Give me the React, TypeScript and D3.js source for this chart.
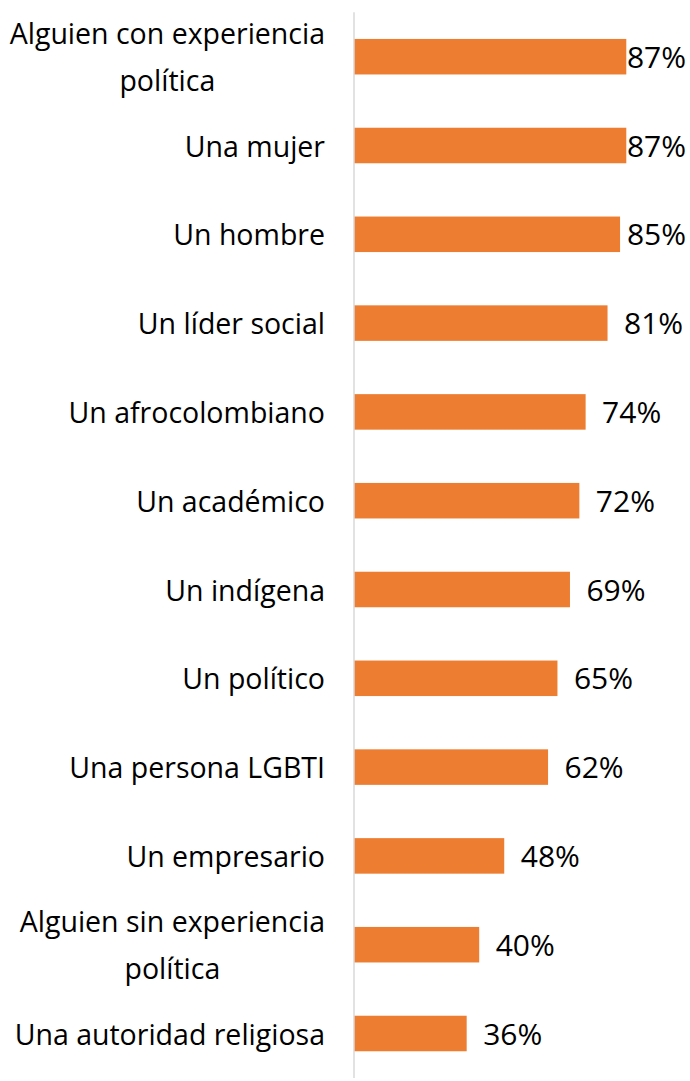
import * as d3 from 'd3'
import { useEffect, useRef } from 'react'

const labels: string[][] = [
  ['Alguien con experiencia', 'política'],
  ['Una mujer'],
  ['Un hombre'],
  ['Un líder social'],
  ['Un afrocolombiano'],
  ['Un académico'],
  ['Un indígena'],
  ['Un político'],
  ['Una persona LGBTI'],
  ['Un empresario'],
  ['Alguien sin experiencia', 'política'],
  ['Una autoridad religiosa'],
]

const values: number[] = [87, 87, 85, 81, 74, 72, 69, 65, 62, 48, 40, 36]

export default function App(){
  const svgRef = useRef<SVGSVGElement|null>(null)
  const width = 690
  const height = 1081

  useEffect(()=>{
    const svg = d3.select(svgRef.current)
    svg.selectAll('*').remove()

    const font = '"Open Sans", sans-serif'
    const catSize = 28.5
    const valSize = 30
    const axisX = 354
    const labelRight = 325
    const rightLimit = 686

    const x = d3.scaleLinear().domain([0, 100]).range([axisX, axisX + 313])
    const y = d3.scaleBand<number>()
      .domain(d3.range(values.length))
      .range([12.3, 1077.9])
      .paddingInner(0.6)
      .paddingOuter(0.3)

    const g = svg.append('g')

    // bars
    g.selectAll('rect.bar')
      .data(values)
      .join('rect')
      .attr('x', x(0))
      .attr('y', (_d: number, i: number)=> y(i)!)
      .attr('width', (d: number)=> x(d) - x(0))
      .attr('height', y.bandwidth())
      .attr('fill', '#ED7D31')

    // axis line
    g.append('line')
      .attr('x1', axisX).attr('x2', axisX)
      .attr('y1', 12.3).attr('y2', 1077.9)
      .attr('stroke', '#d9d9d9')
      .attr('stroke-width', 1.5)

    // category labels (multi-line ones centred within their block)
    const lineGap = 47
    labels.forEach((lines, i)=>{
      const cy = y(i)! + y.bandwidth()/2
      const grp = g.append('g')
      const texts = lines.map((t, j)=> grp.append('text')
        .attr('font-family', font)
        .attr('font-size', catSize)
        .attr('fill', '#000')
        .attr('y', cy + 11 + (j - (lines.length-1)/2) * lineGap)
        .text(t))
      const widths = texts.map(t=> (t.node() as SVGTextElement).getComputedTextLength())
      const maxW = Math.max(...widths)
      texts.forEach(t=> t.attr('text-anchor', 'middle').attr('x', labelRight - maxW/2))
    })

    // value labels
    values.forEach((v, i)=>{
      const cy = y(i)! + y.bandwidth()/2
      const t = g.append('text')
        .attr('font-family', font)
        .attr('font-size', valSize)
        .attr('fill', '#000')
        .attr('y', cy + 11)
        .text(`${v}%`)
      const w = (t.node() as SVGTextElement).getComputedTextLength()
      t.attr('x', Math.min(x(v) + 16.5, rightLimit - w))
    })
  }, [])

  return (
    <svg ref={svgRef} width={width} height={height}
      style={{ position: 'absolute', left: 0, top: 0, background: '#fff' }} />
  )
}
